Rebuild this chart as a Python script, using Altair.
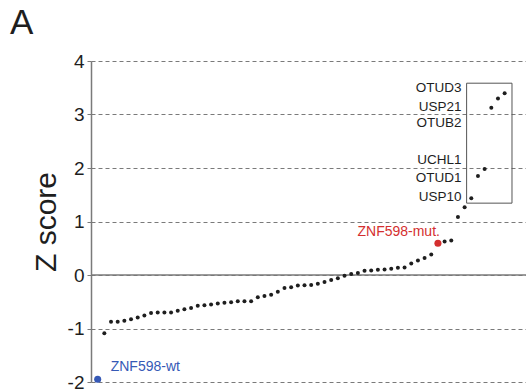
import altair as alt
import pandas as pd

# Z scores of all screened DUBs, sorted ascending (rank 1 = lowest)
z_scores = [
    -1.95, -1.09, -0.875, -0.875, -0.857, -0.827, -0.795, -0.758, -0.708, -0.702,
    -0.702, -0.702, -0.670, -0.641, -0.615, -0.577, -0.566, -0.553, -0.534, -0.521,
    -0.510, -0.492, -0.492, -0.492, -0.417, -0.391, -0.367, -0.311, -0.242, -0.231,
    -0.194, -0.190, -0.185, -0.165, -0.130, -0.093, -0.063, -0.013, 0.019, 0.037,
    0.080, 0.086, 0.099, 0.104, 0.117, 0.136, 0.142, 0.216, 0.272, 0.317,
    0.384, 0.592, 0.626, 0.644, 1.086, 1.266, 1.434, 1.849, 1.980, 3.128,
    3.300, 3.395,
]
ranks = list(range(1, len(z_scores) + 1))
wt_rank = 1
mut_rank = 52

# Boxed top hits and their label stack
hit_genes = ["OTUD3", "USP21", "OTUB2", "UCHL1", "OTUD1", "USP10"]
hit_label_y = [3.490, 3.147, 2.837, 2.151, 1.809, 1.466]
hit_box_x = [56.3, 63.1]
hit_box_y = [1.343, 3.585]

y_ticks = [-2, -1, 0, 1, 2, 3, 4]

FONT = "Liberation Sans"
INK = "#1e1e1e"
GRID = "#7a7a7a"
RED = "#d42f2f"
BLUE = "#3659b6"

df = pd.DataFrame({"rank": ranks, "z": z_scores})
df["kind"] = "other"
df.loc[df["rank"] == wt_rank, "kind"] = "wt"
df.loc[df["rank"] == mut_rank, "kind"] = "mut"

x_scale = alt.Scale(domain=[0, 65.2], nice=False, zero=False)
y_scale = alt.Scale(domain=[-2, 4], nice=False, zero=False)

y_axis = alt.Axis(
    title="Z score", titleFont=FONT, titleFontSize=30, titleFontWeight="normal",
    titleColor=INK, titlePadding=6,
    values=y_ticks, labelExpr="'' + datum.value",
    labelFont=FONT, labelFontSize=19, labelColor=INK, labelPadding=3,
    tickSize=4, tickColor=GRID, tickWidth=1,
    domainColor=GRID, domainWidth=1.5,
    grid=True, gridDash=[4, 3], gridColor=GRID, gridWidth=1,
)


def X(field):
    return alt.X(field, type="quantitative", scale=x_scale, axis=None)


def Y(field):
    return alt.Y(field, type="quantitative", scale=y_scale, axis=y_axis)


base = alt.Chart(df)

zero_line = alt.Chart(pd.DataFrame({"z": [0]})).mark_rule(
    color=GRID, strokeWidth=1.3
).encode(y=Y("z"))

dots = base.transform_filter(alt.datum.kind == "other").mark_circle(
    size=16, color=INK, opacity=1
).encode(x=X("rank"), y=Y("z"))

wt_dot = base.transform_filter(alt.datum.kind == "wt").mark_circle(
    size=50, color=BLUE, opacity=1
).encode(x=X("rank"), y=Y("z"))

mut_dot = base.transform_filter(alt.datum.kind == "mut").mark_circle(
    size=50, color=RED, opacity=1
).encode(x=X("rank"), y=Y("z"))

wt_label = base.transform_filter(alt.datum.kind == "wt").mark_text(
    text="ZNF598-wt", align="left", baseline="middle", dx=13, dy=-12,
    font=FONT, fontSize=14, color=BLUE
).encode(x=X("rank"), y=Y("z"))

mut_label = base.transform_filter(alt.datum.kind == "mut").mark_text(
    text="ZNF598-mut.", align="right", baseline="middle", dx=2, dy=-11,
    font=FONT, fontSize=14, color=RED
).encode(x=X("rank"), y=Y("z"))

box_df = pd.DataFrame({
    "x1": [hit_box_x[0]], "x2": [hit_box_x[1]],
    "y1": [hit_box_y[0]], "y2": [hit_box_y[1]],
})
hit_box = alt.Chart(box_df).mark_rect(
    fillOpacity=0, stroke="#555555", strokeWidth=1
).encode(x=X("x1"), x2="x2", y=Y("y1"), y2="y2")

labels_df = pd.DataFrame({
    "gene": hit_genes,
    "ly": hit_label_y,
    "lx": [hit_box_x[0]] * len(hit_genes),
})
hit_labels = alt.Chart(labels_df).mark_text(
    align="right", baseline="middle", dx=-5, font=FONT, fontSize=13.5, color=INK
).encode(x=X("lx"), y=Y("ly"), text="gene:N")

chart = alt.layer(
    zero_line, hit_box, dots, wt_dot, mut_dot, wt_label, mut_label, hit_labels
).properties(
    width=435,
    height=321,
    title=alt.TitleParams(
        "A", anchor="start", frame="group", font=FONT, fontSize=35,
        fontWeight="normal", color=INK, dx=-81, offset=11,
    ),
    autosize=alt.AutoSizeParams(type="none"),
    padding={"left": 91, "top": 61, "right": 0, "bottom": 9},
    background="white",
).configure_view(stroke=None)

chart.save("out.html", embed_options={"renderer": "svg", "actions": False})
